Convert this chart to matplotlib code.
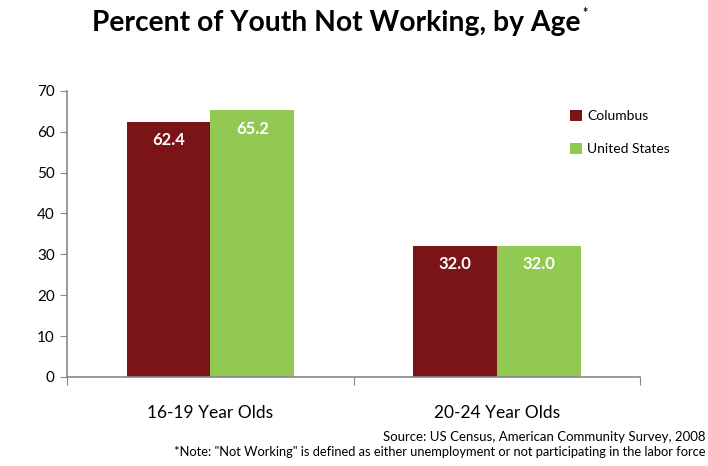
import matplotlib
matplotlib.use("Agg")
import matplotlib.pyplot as plt
import numpy as np

# data
categories = ["16-19 Year Olds", "20-24 Year Olds"]
columbus = [62.4, 32.0]
united_states = [65.2, 32.0]
series_names = ["Columbus", "United States"]
colors = ["#7B1416", "#92C953"]

plt.rcParams['font.family'] = ['Lato', 'DejaVu Sans']

fig = plt.figure(figsize=(7.08, 4.66), dpi=100)
ax = fig.add_axes([0.095, 0.191, 0.809, 0.614])

x = np.arange(len(categories))
w = 0.293
bars1 = ax.bar(x - w / 2, columbus, w, color=colors[0], label=series_names[0])
bars2 = ax.bar(x + w / 2, united_states, w, color=colors[1], label=series_names[1])

# value labels inside bars, near the top
for bars in (bars1, bars2):
    for b in bars:
        ax.text(b.get_x() + b.get_width() / 2, b.get_height() - 2.5,
                f"{b.get_height():.1f}", ha='center', va='top',
                color='white', fontsize=12, fontweight='bold')

ax.set_xlim(-0.5, 1.5)
ax.set_ylim(0, 70)
ax.set_yticks(range(0, 71, 10))
ax.tick_params(axis='y', labelsize=11, length=5, color='#888888', pad=4)

# category ticks at boundaries, labels centered
ax.set_xticks([-0.5, 0.5, 1.5])
ax.set_xticklabels([])
ax.set_xticks(x, minor=True)
ax.set_xticklabels(categories, minor=True, fontsize=12.5)
ax.tick_params(axis='x', which='major', length=6, color='#888888')
ax.tick_params(axis='x', which='minor', length=0, pad=20)

for s in ('top', 'right'):
    ax.spines[s].set_visible(False)
for s in ('left', 'bottom'):
    ax.spines[s].set_color('#888888')
    ax.spines[s].set_linewidth(1.2)

leg = fig.legend(loc='upper left', bbox_to_anchor=(0.788, 0.79), frameon=False,
                 fontsize=10, handlelength=0.8, handleheight=0.8,
                 handletextpad=0.4, labelspacing=1.5)

title = fig.text(0.475, 0.95, "Percent of Youth Not Working, by Age", ha='center',
                 va='center', fontsize=20.3, fontweight='bold')
fig.canvas.draw()
bb = title.get_window_extent().transformed(fig.transFigure.inverted())
fig.text(bb.x1 + 0.003, bb.y1 - 0.005, "*", ha='left', va='center',
         fontsize=9, fontweight='bold')

fig.text(0.997, 0.062, "Source: US Census, American Community Survey, 2008", ha='right',
         va='center', fontsize=9.5)
fig.text(0.997, 0.03, "*Note: \"Not Working\" is defined as either unemployment or not "
         "participating in the labor force", ha='right', va='center', fontsize=9.3)

fig.savefig("out.png", dpi=100)
